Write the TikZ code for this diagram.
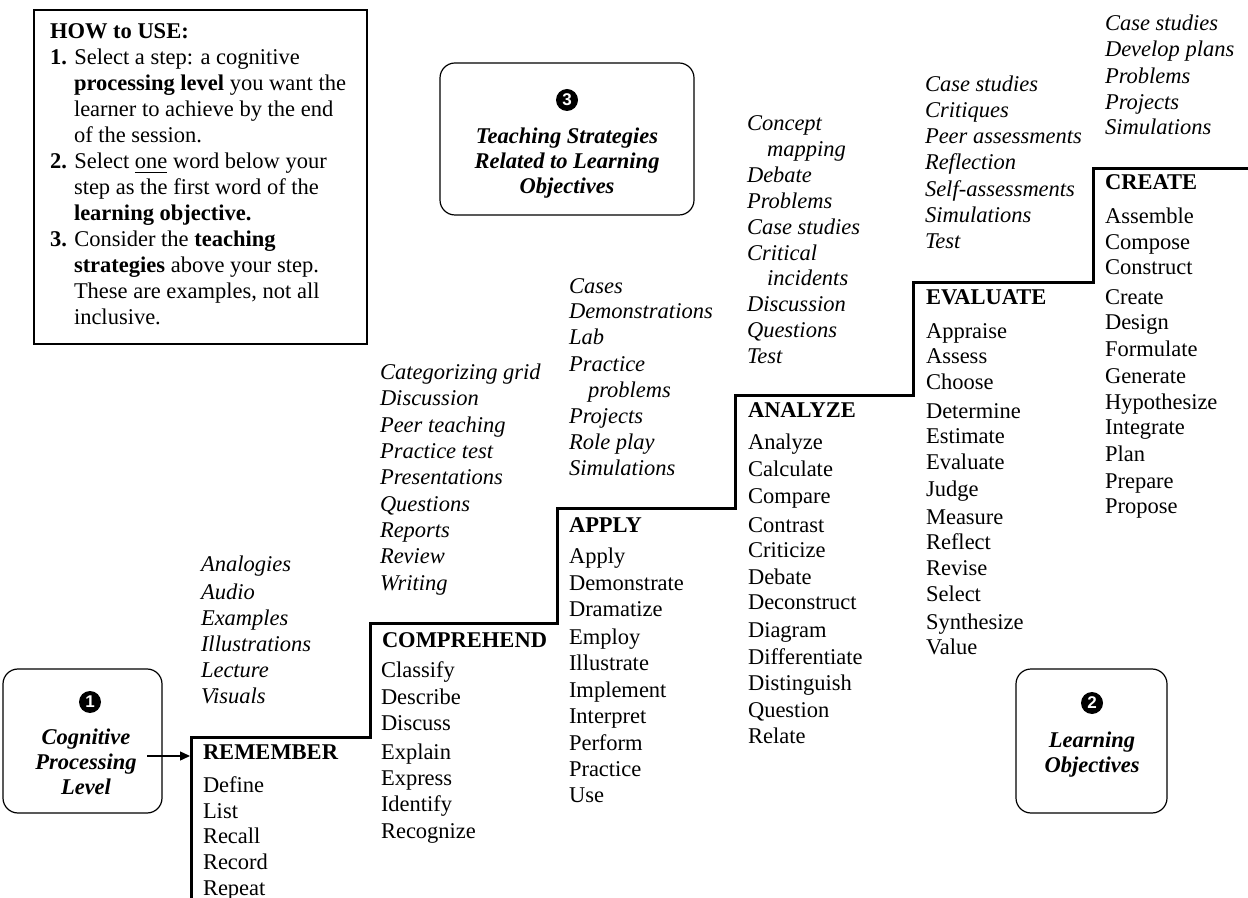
\documentclass[tikz,border=0pt]{standalone}
\usepackage{fontspec}
\setmainfont{Liberation Serif}
\setsansfont{Liberation Sans}
\usetikzlibrary{arrows.meta}
\begin{document}
\begin{tikzpicture}[x=0.5pt,y=-0.5pt,
  every node/.style={inner sep=0pt, outer sep=0pt},
  txt/.style={anchor=base west, font=\fontsize{11.25pt}{13pt}\selectfont},
  verb/.style={txt},
  strat/.style={txt, font=\fontsize{11.25pt}{13pt}\selectfont\itshape},
  head/.style={txt, font=\fontsize{11.25pt}{13pt}\selectfont\bfseries},
  stair/.style={line width=1.5pt, line join=miter},
  rbox/.style={draw, rounded corners=7.5pt, line width=0.6pt},
  howframe/.style={draw, line width=1.2pt, anchor=north west},
  numdot/.style={circle, fill=black, minimum size=11pt, text=white,
    font=\sffamily\bfseries\fontsize{8.5pt}{8.5pt}\selectfont},
  title/.style={anchor=base, font=\fontsize{11.25pt}{12.5pt}\selectfont\bfseries\itshape},
  pointer/.style={line width=0.7pt, -{Triangle[length=5pt,width=4.5pt]}}
]
\fill[white] (0,0) rectangle (1248,898);
\useasboundingbox (0,0) rectangle (1248,898);

% the staircase of cognitive levels
\draw[stair] (191,898) -- (191,737) -- (370,737) -- (370,623) -- (557,623)
  -- (557,509) -- (735,509) -- (735,396) -- (913,396) -- (913,283)
  -- (1093,283) -- (1093,169) -- (1248,169);

% instructions
\node[howframe, minimum width=166.5pt, minimum height=167pt] (howbox) at (34,10) {};
\node[txt] (howtext) at (50,39) {\parbox[t]{170pt}{\raggedright
\textbf{HOW to USE:}\\
\textbf{1.} Select a step: a cognitive\\
\hspace*{12pt}\textbf{processing level} you want the\\
\hspace*{12pt}learner to achieve by the end\\
\hspace*{12pt}of the session.\\
\textbf{2.} Select \underline{one} word below your\\
\hspace*{12pt}step as the first word of the\\
\hspace*{12pt}\textbf{learning objective.}\\
\textbf{3.} Consider the \textbf{teaching}\\
\hspace*{12pt}\textbf{strategies} above your step.\\
\hspace*{12pt}These are examples, not all\\
\hspace*{12pt}inclusive.}};

% legend boxes
\node[rbox, minimum width=79.5pt, minimum height=72pt] (cplbox) at (82.5,741) {};
\node[numdot] (n1) at (90,702) {1};
\node[title] (cpl) at (86,744) {\parbox[t]{78pt}{\centering Cognitive\\Processing\\Level}};

\node[rbox, minimum width=75.5pt, minimum height=72pt] (lobox) at (1091.5,741) {};
\node[numdot] (n2) at (1092,703) {2};
\node[title] (lo) at (1092,747) {\parbox[t]{72pt}{\centering Learning\\Objectives}};

\node[rbox, minimum width=127pt, minimum height=76pt] (tsbox) at (567,139) {};
\node[numdot] (n3) at (567,100) {3};
\node[title] (ts) at (567,144) {\parbox[t]{125pt}{\centering Teaching Strategies\\Related to Learning\\Objectives}};

\coordinate (arrowtail) at (147,756);
\coordinate (arrowtip) at (190,756);
\draw[pointer] (arrowtail) -- (arrowtip);

% REMEMBER
\foreach \y/\t [count=\i] in {565/Analogies, 592/Audio, 618/Examples, 644/Illustrations, 670/Lecture, 696/Visuals}
  \node[strat] (rem-s\i) at (201,\y+7) {\t};
\node[head] (remember) at (203,759) {REMEMBER};
\foreach \y/\t [count=\i] in {785/Define, 811/List, 836/Recall, 862/Record, 888/Repeat}
  \node[verb] (rem-v\i) at (203,\y+7) {\t};

% COMPREHEND
\foreach \y/\t [count=\i] in {373/Categorizing grid, 399/Discussion, 426/Peer teaching, 452/Practice test, 478/Presentations, 504/Questions, 531/Reports, 557/Review, 583/Writing}
  \node[strat] (com-s\i) at (380,\y+7) {\t};
\node[head] (comprehend) at (382,647) {COMPREHEND};
\foreach \y/\t [count=\i] in {670/Classify, 697/Describe, 723/Discuss, 752/Explain, 778/Express, 804/Identify, 831/Recognize}
  \node[verb] (com-v\i) at (381,\y+7) {\t};

% APPLY
\foreach \y/\t [count=\i] in {287/Cases, 312/Demonstrations, 338/Lab, 365/Practice, 391/\hspace*{9.5pt}problems, 417/Projects, 443/Role play, 469/Simulations}
  \node[strat] (app-s\i) at (569,\y+7) {\t};
\node[head] (apply) at (569,532) {APPLY};
\foreach \y/\t [count=\i] in {557/Apply, 583/Demonstrate, 610/Dramatize, 637/Employ, 663/Illustrate, 690/Implement, 716/Interpret, 743/Perform, 769/Practice, 795/Use}
  \node[verb] (app-v\i) at (569,\y+7) {\t};

% ANALYZE
\foreach \y/\t [count=\i] in {124/Concept, 150/\hspace*{10pt}mapping, 176/Debate, 202/Problems, 228/Case studies, 254/Critical, 279/\hspace*{10pt}incidents, 305/Discussion, 331/Questions, 357/Test}
  \node[strat] (ana-s\i) at (747,\y+7) {\t};
\node[head] (analyze) at (748,418) {ANALYZE};
\foreach \y/\t [count=\i] in {443/Analyze, 470/Calculate, 497/Compare, 525/Contrast, 551/Criticize, 577/Debate, 603/Deconstruct, 630/Diagram, 657/Differentiate, 683/Distinguish, 710/Question, 736/Relate}
  \node[verb] (ana-v\i) at (748,\y+7) {\t};

% EVALUATE
\foreach \y/\t [count=\i] in {85/Case studies, 111/Critiques, 137/Peer assessments, 163/Reflection, 190/Self-assessments, 216/Simulations, 242/Test}
  \node[strat] (eva-s\i) at (925,\y+7) {\t};
\node[head] (evaluate) at (926,305) {EVALUATE};
\foreach \y/\t [count=\i] in {332/Appraise, 357/Assess, 383/Choose, 412/Determine, 437/Estimate, 463/Evaluate, 490/Judge, 517/Measure, 543/Reflect, 568/Revise, 595/Select, 622/Synthesize, 647/Value}
  \node[verb] (eva-v\i) at (926,\y+7) {\t};

% CREATE
\foreach \y/\t [count=\i] in {24/Case studies, 50/Develop plans, 77/Problems, 103/Projects, 128/Simulations}
  \node[strat] (cre-s\i) at (1105,\y+7) {\t};
\node[head] (create) at (1105,190) {CREATE};
\foreach \y/\t [count=\i] in {217/Assemble, 243/Compose, 268/Construct, 298/Create, 323/Design, 350/Formulate, 377/Generate, 403/Hypothesize, 428/Integrate, 455/Plan, 481/Prepare, 507/Propose}
  \node[verb] (cre-v\i) at (1105,\y+7) {\t};
\end{tikzpicture}
\end{document}
